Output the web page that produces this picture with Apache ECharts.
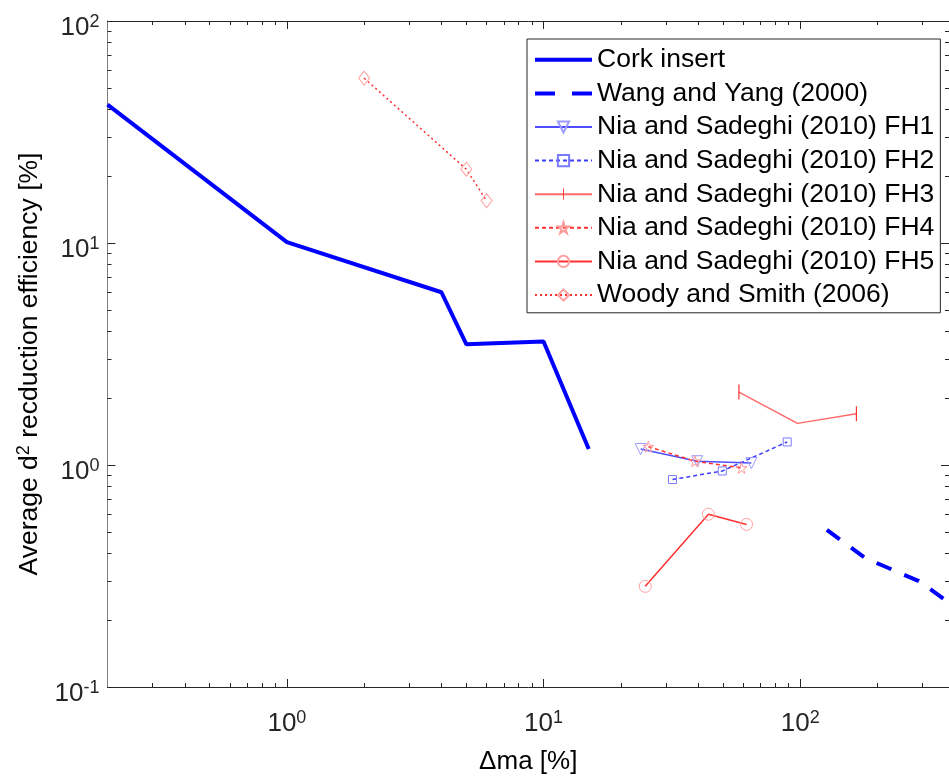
<!DOCTYPE html>
<html>
<head>
<meta charset="utf-8">
<script src="https://cdn.jsdelivr.net/npm/echarts@6/dist/echarts.min.js"></script>
<style>html,body{margin:0;padding:0;background:#fff}#c{width:949px;height:780px}</style>
</head>
<body>
<div id="c"></div>
<script>
// ---- data (x = Δma [%], y = average d² reduction efficiency [%]) ----
const corkX = [0.2, 1, 4, 5, 10, 15];
const corkY = [42, 10.1, 6.0, 3.5, 3.6, 1.18];
const wangX = [127, 180, 290, 400];
const wangY = [0.51, 0.38, 0.30, 0.23];
const fh1X = [23.9, 39.7, 64.5];
const fh1Y = [1.18, 1.04, 1.02];
const fh2X = [31.8, 49.7, 89];
const fh2Y = [0.86, 0.94, 1.27];
const fh3X = [57.7, 97.6, 165.6];
const fh3Y = [2.13, 1.54, 1.70];
const fh4X = [25.6, 38.9, 59.1];
const fh4Y = [1.21, 1.04, 0.97];
const fh5X = [24.9, 43.9, 61.8];
const fh5Y = [0.284, 0.60, 0.54];
const woodyX = [2, 5, 6];
const woodyY = [55.3, 21.5, 15.5];

const seriesNames = ['Cork insert', 'Wang and Yang (2000)', 'Nia and Sadeghi (2010) FH1',
  'Nia and Sadeghi (2010) FH2', 'Nia and Sadeghi (2010) FH3', 'Nia and Sadeghi (2010) FH4',
  'Nia and Sadeghi (2010) FH5', 'Woody and Smith (2006)'];

const xMajor = [1, 10, 100];
const xMinor = [0.3,0.4,0.5,0.6,0.7,0.8,0.9,2,3,4,5,6,7,8,9,20,30,40,50,60,70,80,90,200,300];
const yMajor = [0.1, 1, 10, 100];
const yMinor = [0.2,0.3,0.4,0.5,0.6,0.7,0.8,0.9,2,3,4,5,6,7,8,9,20,30,40,50,60,70,80,90];
const xRange = [0.2, 380];
const yRange = [0.1, 100];

// ---- helpers ----
const pairs = (xs, ys) => xs.map((x, i) => [x, ys[i]]);
const FONT = 'Liberation Sans, Arial, sans-serif';
const AX = '#262626';
const supFmt = v => '{b|10}{s|' + Math.round(Math.log10(v)) + '}';
const richLbl = {
  b: {fontSize: 26, fontFamily: FONT, color: AX, lineHeight: 30},
  s: {fontSize: 18, fontFamily: FONT, color: AX, lineHeight: 30, verticalAlign: 'top', padding: [0, 0, 12, 0]}
};
const star = 'path://M50,0 L61,35 L98,35 L68,57 L79,91 L50,70 L21,91 L32,57 L2,35 L39,35 Z';
// thin vertical bar centred in a square box (tiny corner triangles fix the box)
const vbar = 'path://M0,0 L0.01,0 L0,0.01 Z M10,10 L9.99,10 L10,9.99 Z M4.6,0 L5.4,0 L5.4,10 L4.6,10 Z';

function xAx(pos, major) {
  return {
    type: 'log', logBase: 10, min: xRange[0], max: xRange[1], position: pos,
    gridIndex: 0,
    axisLine: {show: major, lineStyle: {color: AX, width: 1}},
    axisTick: {show: true, inside: true, length: major ? 8 : 4, lineStyle: {color: AX},
      customValues: major ? xMajor : xMinor},
    axisLabel: major && pos === 'bottom' ? {show: true, customValues: xMajor, formatter: supFmt,
      rich: richLbl, margin: 22} : {show: false},
    splitLine: {show: false},
    name: major && pos === 'bottom' ? 'Δma [%]' : '',
    nameLocation: 'middle', nameGap: 62,
    nameTextStyle: {fontSize: 26, fontFamily: FONT, color: '#000'}
  };
}
function yAx(pos, major) {
  return {
    type: 'log', logBase: 10, min: yRange[0], max: yRange[1], position: pos,
    gridIndex: 0,
    axisLine: {show: major, lineStyle: {color: pos === 'left' ? '#7f7f7f' : AX, width: 1}},
    axisTick: {show: true, inside: true, length: major ? 8 : 4, lineStyle: {color: AX},
      customValues: major ? yMajor : yMinor},
    axisLabel: major && pos === 'left' ? {show: true, customValues: yMajor, formatter: supFmt,
      rich: richLbl, margin: 8, padding: [14, 0, 0, 0]} : {show: false},
    splitLine: {show: false},
    name: major && pos === 'left' ? 'Average d{s|2} recduction efficiency [%]' : '',
    nameLocation: 'middle', nameGap: 60, nameRotate: 90,
    nameTextStyle: {fontSize: 26.5, fontFamily: FONT, color: '#000', padding: [0, 20, 0, 0],
      rich: {s: {fontSize: 18, fontFamily: FONT, color: '#000', verticalAlign: 'top', padding: [0,0,12,0]}}}
  };
}

function lineSeries(name, data, line, sym) {
  return Object.assign({
    name, type: 'line', data, xAxisIndex: 0, yAxisIndex: 0,
    clip: true, animation: false, z: 3,
    lineStyle: line, emphasis: {disabled: true}
  }, sym);
}

const hollow = c => ({color: 'rgba(255,255,255,0)', borderColor: c, borderWidth: 1});
const wangDash = [16, 14];

const series = [
  lineSeries(seriesNames[0], pairs(corkX, corkY), {color: '#0000ff', width: 4, type: 'solid'},
    {symbol: 'none', itemStyle: {color: '#0000ff'}}),
  lineSeries(seriesNames[1], pairs(wangX, wangY), {color: '#0000ff', width: 4, type: wangDash},
    {symbol: 'none', itemStyle: {color: '#0000ff'}}),
  lineSeries(seriesNames[2], pairs(fh1X, fh1Y), {color: '#4d4dff', width: 1.5},
    {symbol: 'triangle', symbolRotate: 180, symbolSize: 11, itemStyle: hollow('#9a9aff')}),
  lineSeries(seriesNames[3], pairs(fh2X, fh2Y), {color: '#3c3cff', width: 1.5, type: [4, 3]},
    {symbol: 'rect', symbolSize: 8, itemStyle: hollow('#7a7aff')}),
  lineSeries(seriesNames[4], pairs(fh3X, fh3Y).map((p, i, a) =>
      (i === 0 || i === a.length - 1) ? p : {value: p, symbol: 'none'}),
    {color: '#ff6a6a', width: 1.5},
    {symbol: vbar, symbolSize: 15, itemStyle: {color: '#ff3030'}}),
  lineSeries(seriesNames[5], pairs(fh4X, fh4Y), {color: '#ff3030', width: 1.5, type: [4, 3]},
    {symbol: star, symbolSize: 11, itemStyle: hollow('#ff9a9a')}),
  lineSeries(seriesNames[6], pairs(fh5X, fh5Y), {color: '#ff3030', width: 1.5},
    {symbol: 'circle', symbolSize: 12, itemStyle: hollow('#ffa0a0')}),
  lineSeries(seriesNames[7], pairs(woodyX, woodyY), {color: '#ff3030', width: 1.5, type: [2, 3]},
    {symbol: 'diamond', symbolSize: [11, 14], itemStyle: hollow('#ffa0a0')})
];

const legendData = seriesNames.map((n, i) => i === 0
  ? {name: n, itemStyle: {opacity: 0}, lineStyle: {width: 4}}
  : i === 1 ? {name: n, itemStyle: {opacity: 0}, lineStyle: {width: 4, type: [20, 17]}}
  : {name: n});

const chart = echarts.init(document.getElementById('c'), null, {renderer: 'canvas'});
chart.setOption({
  backgroundColor: '#fff',
  animation: false,
  grid: {left: 107.5, right: -1, top: 21, bottom: 90, containLabel: false},
  xAxis: [xAx('bottom', true), xAx('bottom', false), xAx('top', true), xAx('top', false)],
  yAxis: [yAx('left', true), yAx('left', false), yAx('right', true), yAx('right', false)],
  legend: {
    orient: 'vertical', left: 527, top: 39,
    data: legendData,
    itemWidth: 57, itemHeight: 14, itemGap: 0,
    padding: [4, 6, 1, 6],
    borderColor: AX, borderWidth: 1, backgroundColor: '#fff',
    textStyle: {fontSize: 26.5, fontFamily: FONT, color: '#000', lineHeight: 33.6},
    selectedMode: false
  },
  series
});
</script>
</body>
</html>
